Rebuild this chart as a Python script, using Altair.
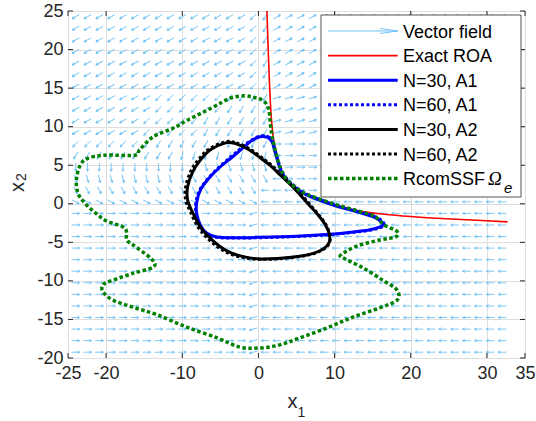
import altair as alt
import pandas as pd

# ---------------- axes ----------------
X_DOMAIN = [-25, 35]
Y_DOMAIN = [-20, 25]
X_TICKS = [-25, -20, -10, 0, 10, 20, 30, 35]
Y_TICKS = [-20, -15, -10, -5, 0, 5, 10, 15, 20, 25]

# ---------------- vector field (quiver grid, directions) ----------------
FIELD_X = [-24.0, -22.44, -20.89, -19.33, -17.78, -16.22, -14.67, -13.11, -11.56, -10.0,
           -8.44, -6.89, -5.33, -3.78, -2.22, -0.67, 0.89, 2.44, 4.0, 5.56, 7.11, 8.67,
           10.22, 11.78, 13.33, 14.89, 16.44, 18.0, 19.56, 21.11, 22.67, 24.22, 25.78,
           27.33, 28.89, 30.44, 32.0]
FIELD_Y = [24.25, 22.75, 21.25, 19.75, 18.25, 16.75, 15.25, 13.75, 12.25, 10.75, 9.25,
           7.75, 6.25, 4.75, 3.25, 1.75, 0.25, -1.25, -2.75, -4.25, -5.75, -7.25, -8.75,
           -10.25, -11.75, -13.25, -14.75, -16.25, -17.75, -19.25]
# code k -> direction 15*k degrees, counter-clockwise from +x1
DIR_CODES = "0123456789ABCDEFGHIJKLMN"
FIELD_ROWS = [
    "EEEEEEEEEEEEEEEFG22222222222222222222",
    "EEEEEEEEEEEEEEEFG22222222222222222222",
    "EEEEEEEEEEEEEEEFG22222222222222222222",
    "EEEEEEEEEEEEEEEFG22222222222222222222",
    "EEEEEEEEEEEEEEEFG22222222222222222222",
    "EEEEEEEEEEEEEEEFG22222222222222222222",
    "EEEEEEEEEEEEEEEFG22222222222222222222",
    "EEEEEEEFFFFFFGGGG11111111111111111111",
    "EEEEEEEFFFFFFGGGG11111111111111111111",
    "EEEEEEFFFFFGGGGGG11111111111111111111",
    "EEEEEEFFFFFGGGGGG11111111111111111111",
    "FFFFFFGGGGGGGGGGG00000000000000000000",
    "GGGGGGGGGHHHHHHHH00000000000000000000",
    "IIIIIIIIIIJJJJJJJC0000000000000000000",
    "JJJJJJJJJJKKKKKKKC0000000000000000000",
    "KKKKKKKKKKKKKKKKCCC000000000000000000",
    "MMMMMMMMMMMMMMMMCCCCCCCCCCCCCCCCCCCCC",
    "000000000000000DCCCCCCCCCCCCCCCCCCCCC",
    "000000000000000DCCCCCCCCCCCCCCCCCCCCC",
    "000000000000000DCCCCCCCCCCCCCCCCCCCCC",
    "000000000000000DCCCCCCCCCCCCCCCCCCCCC",
    "000000000000000DCCCCCCCCCCCCCCCCCCCCC",
    "000000000000000DCCCCCCCCCCCCCCCCCCCCC",
    "000000000000000DCCCCCCCCCCCCCCCCCCCCC",
    "000000000000000DCCCCCCCCCCCCCCCCCCCCC",
    "000000000000000DCCCCCCCCCCCCCCCCCCCCC",
    "000000000000000DCCCCCCCCCCCCCCCCCCCCC",
    "000000000000000DCCCCCCCCCCCCCCCCCCCCC",
    "000000000000000DCCCCCCCCCCCCCCCCCCCCC",
    "000000000000000DCCCCCCCCCCCCCCCCCCCCC",
]

# ---------------- curves ----------------
ROA_X = [1.12, 1.25, 1.4, 1.55, 1.75, 2.0, 2.4, 2.9, 3.6, 4.5, 5.8, 7.6, 10.3, 13.3,
         16.5, 20.0, 24.0, 28.0, 32.7]
ROA_Y = [25.0, 21.0, 17.0, 13.5, 10.5, 8.3, 6.3, 4.5, 3.2, 2.3, 1.4, 0.7, -0.2, -0.95,
         -1.35, -1.65, -1.9, -2.1, -2.35]

A1_N30_X = [0.2, 1.2, 1.8, 2.1, 2.6, 3.1, 3.8, 4.7, 6.0, 7.6, 10.2, 13.2, 15.1, 16.0,
            16.4, 16.0, 14.5, 12.0, 9.4, 5.0, 0.2, -3.0, -5.5, -6.8, -7.6, -8.1, -8.1,
            -7.6, -6.5, -5.0, -3.5, -2.2, -1.0]
A1_N30_Y = [8.7, 8.6, 8.0, 7.0, 5.3, 4.0, 3.0, 2.2, 1.3, 0.6, -0.3, -1.1, -1.7, -2.2,
            -2.6, -3.0, -3.4, -3.7, -3.95, -4.2, -4.35, -4.4, -4.3, -3.8, -2.8, -1.3, 0.2,
            1.8, 3.3, 4.8, 6.0, 7.1, 8.1]

A1_N60_X = [0.3, 1.25, 1.85, 2.15, 2.65, 3.15, 3.85, 4.75, 6.05, 7.7, 10.3, 13.3, 15.2,
            16.1, 16.5, 16.1, 14.6, 12.0, 9.4, 5.0, 0.2, -3.0, -5.5, -6.9, -7.7, -8.2,
            -8.2, -7.7, -6.6, -5.1, -3.6, -2.3, -1.0]
A1_N60_Y = [8.8, 8.7, 8.1, 7.1, 5.4, 4.1, 3.1, 2.3, 1.4, 0.7, -0.2, -1.0, -1.6, -2.1,
            -2.6, -3.05, -3.45, -3.75, -4.0, -4.25, -4.4, -4.45, -4.35, -3.85, -2.85, -1.3,
            0.2, 1.8, 3.3, 4.8, 6.1, 7.2, 8.2]

A2_N30_X = [-4.3, -3.0, -1.4, 0.2, 1.5, 3.0, 4.8, 6.5, 7.7, 8.7, 9.3, 9.3, 8.6, 7.3,
            5.4, 2.5, 0.2, -1.5, -3.5, -5.1, -6.6, -7.7, -8.7, -9.3, -9.3, -8.6, -7.6, -6.3]
A2_N30_Y = [7.9, 7.8, 7.1, 6.0, 5.0, 3.6, 1.9, 0.0, -1.3, -2.6, -3.9, -5.0, -5.8, -6.4,
            -6.8, -7.1, -7.15, -6.95, -6.4, -5.5, -4.2, -2.9, -1.0, 0.5, 2.2, 4.2, 5.7, 7.0]

A2_N60_X = [-4.3, -2.9, -1.3, 0.3, 1.6, 3.1, 4.9, 6.6, 7.8, 8.8, 9.35, 9.35, 8.65, 7.3,
            5.4, 2.5, 0.2, -1.6, -3.6, -5.3, -6.8, -7.95, -8.95, -9.55, -9.55, -8.85,
            -7.8, -6.5]
A2_N60_Y = [8.05, 7.9, 7.2, 6.1, 5.1, 3.7, 2.0, 0.1, -1.3, -2.6, -3.9, -5.0, -5.85,
            -6.45, -6.85, -7.15, -7.2, -7.05, -6.55, -5.65, -4.35, -3.0, -1.0, 0.5, 2.2,
            4.3, 5.8, 7.1]

SSF_X = [-1.8, -0.7, 0.2, 1.0, 1.4, 1.55, 1.75, 2.0, 2.4, 2.9, 3.6, 4.5, 5.8, 7.6, 10.3,
         13.3, 15.2, 15.9, 16.6, 18.2, 18.0, 15.9, 12.9, 10.9, 11.1, 13.7, 16.3, 18.2,
         18.2, 15.9, 12.4, 9.0, 5.4, 2.8, 0.2, -2.4, -5.4, -9.4, -13.3, -16.5, -19.1,
         -20.4, -20.4, -19.1, -16.4, -13.8, -14.0, -16.5, -17.3, -17.3, -17.8, -20.0,
         -21.5, -22.8, -23.7, -23.9, -23.4, -22.4, -20.1, -16.2, -15.6, -13.8, -11.2,
         -9.4, -6.0, -3.7]
SSF_Y = [14.0, 13.8, 13.6, 13.0, 12.0, 10.5, 9.0, 7.8, 6.2, 4.6, 3.3, 2.4, 1.5, 0.75,
         -0.15, -1.0, -1.6, -2.2, -2.8, -3.6, -4.3, -4.7, -5.5, -6.6, -7.0, -8.3, -9.9,
         -11.2, -12.5, -13.5, -14.7, -16.1, -17.4, -18.3, -18.7, -18.6, -17.4, -16.0,
         -14.4, -13.4, -12.5, -11.4, -10.5, -9.9, -9.0, -8.2, -7.2, -5.3, -4.7, -3.7,
         -3.0, -2.2, -1.1, 0.1, 1.4, 3.1, 5.0, 5.9, 6.3, 6.3, 7.0, 8.7, 9.8, 10.8, 12.5,
         13.7]

LEGEND_LABELS = ["Vector field", "Exact ROA", "N=30, A1", "N=60, A1", "N=30, A2",
                 "N=60, A2", "RcomSSF"]

# ---------------- styling ----------------
W, H = 457, 347
FONT = "Liberation Sans"
AX_COLOR = "#262626"
ARROW_COLOR = "#72C3F6"
BLUE, BLACK, RED, GREEN = "#0000FF", "#000000", "#FF0000", "#008000"

SX = alt.Scale(domain=X_DOMAIN, nice=False, zero=False)
SY = alt.Scale(domain=Y_DOMAIN, nice=False, zero=False)
AXX = alt.Axis(values=X_TICKS, labelExpr="datum.value + ''", grid=True, gridColor="#DEDEDE",
               ticks=False, tickSize=0, domain=False, labelFont=FONT, labelFontSize=18,
               labelColor=AX_COLOR, labelPadding=6, labelFlush=False, labelOverlap=False,
               title=None)
AXY = alt.Axis(values=Y_TICKS, labelExpr="datum.value + ''", grid=True, gridColor="#DEDEDE",
               ticks=False, tickSize=0, domain=False, labelFont=FONT, labelFontSize=18,
               labelColor=AX_COLOR, labelPadding=5, labelFlush=False, labelOverlap=False,
               title=None)


def X(field):
    return alt.X(field, type="quantitative", scale=SX, axis=AXX)


def Y(field):
    return alt.Y(field, type="quantitative", scale=SY, axis=AXY)


# vector field
recs = []
for r, line in enumerate(FIELD_ROWS):
    for c, ch in enumerate(line):
        theta = DIR_CODES.index(ch) * 15
        recs.append({"x": FIELD_X[c], "y": FIELD_Y[r], "rot": (360 - theta) % 360})
field_df = pd.DataFrame(recs)

ARROW_PATH = "M-1,0L1,0M1,0L0.4,-0.3M1,0L0.4,0.3"
field = alt.Chart(field_df).mark_point(
    shape=ARROW_PATH, filled=False, size=68, strokeWidth=0.9, color=ARROW_COLOR,
    opacity=1, clip=True
).encode(x=X("x"), y=Y("y"), angle=alt.Angle("rot:Q", scale=None))


def curve(xs, ys, color, width, dash=None, interp="cardinal-closed"):
    df = pd.DataFrame({"x": xs, "y": ys, "i": list(range(len(xs)))})
    kw = dict(color=color, strokeWidth=width, interpolate=interp, clip=True,
              strokeCap="butt", strokeJoin="round")
    if dash is not None:
        kw["strokeDash"] = dash
    return alt.Chart(df).mark_line(**kw).encode(x=X("x"), y=Y("y"), order="i:Q")


roa = curve(ROA_X, ROA_Y, RED, 1.6, interp="catmull-rom")
a1n30 = curve(A1_N30_X, A1_N30_Y, BLUE, 3)
a1n60 = curve(A1_N60_X, A1_N60_Y, BLUE, 3, dash=[3, 2.5])
a2n30 = curve(A2_N30_X, A2_N30_Y, BLACK, 3)
a2n60 = curve(A2_N60_X, A2_N60_Y, BLACK, 3, dash=[3, 2.5])
ssf = curve(SSF_X, SSF_Y, GREEN, 3.5, dash=[3.5, 2.5])

# inward tick marks (box style)
xt = pd.DataFrame({"v": X_TICKS})
yt = pd.DataFrame({"v": Y_TICKS})
tick_style = dict(color=AX_COLOR, strokeWidth=1)
ticks = [
    alt.Chart(xt).mark_rule(**tick_style).encode(x=X("v"), y=alt.value(H), y2=alt.value(H - 5)),
    alt.Chart(xt).mark_rule(**tick_style).encode(x=X("v"), y=alt.value(0), y2=alt.value(5)),
    alt.Chart(yt).mark_rule(**tick_style).encode(y=Y("v"), x=alt.value(0), x2=alt.value(5)),
    alt.Chart(yt).mark_rule(**tick_style).encode(y=Y("v"), x=alt.value(W), x2=alt.value(W - 5)),
]

ONE = alt.Data(values=[{}])

# axis titles x_1 and x_2
titles = [
    alt.Chart(ONE).mark_text(text="x", font=FONT, fontSize=20, color=AX_COLOR,
                             align="center", baseline="alphabetic")
    .encode(x=alt.value(224.5), y=alt.value(396.5)),
    alt.Chart(ONE).mark_text(text="1", font=FONT, fontSize=14, color=AX_COLOR,
                             align="center", baseline="alphabetic")
    .encode(x=alt.value(233.5), y=alt.value(406)),
    alt.Chart(ONE).mark_text(text="x", font=FONT, fontSize=20, color=AX_COLOR,
                             align="center", baseline="alphabetic", angle=270)
    .encode(x=alt.value(-44.5), y=alt.value(176)),
    alt.Chart(ONE).mark_text(text="2", font=FONT, fontSize=14, color=AX_COLOR,
                             align="center", baseline="alphabetic", angle=270)
    .encode(x=alt.value(-42), y=alt.value(166)),
]

# legend
LEG_Y0, LEG_DY = 20.0, 24.6
LX0, LX1, TX = 260, 329.7, 335
leg = [alt.Chart(ONE).mark_rect(fill="white", stroke=AX_COLOR, strokeWidth=0.8)
       .encode(x=alt.value(253), x2=alt.value(453), y=alt.value(4), y2=alt.value(186))]

leg_styles = [
    None,
    dict(color=RED, strokeWidth=1.6),
    dict(color=BLUE, strokeWidth=3),
    dict(color=BLUE, strokeWidth=3, strokeDash=[3, 2.5]),
    dict(color=BLACK, strokeWidth=3),
    dict(color=BLACK, strokeWidth=3, strokeDash=[3, 2.5]),
    dict(color=GREEN, strokeWidth=3.5, strokeDash=[3.5, 2.5]),
]
for i, lab in enumerate(LEGEND_LABELS):
    yc = LEG_Y0 + LEG_DY * i
    if leg_styles[i] is None:
        leg.append(alt.Chart(ONE).mark_point(
            shape="M-1,0L1,0M1,0L0.5,-0.07M1,0L0.5,0.07", filled=False,
            size=(LX1 - LX0) ** 2, strokeWidth=1, color=ARROW_COLOR, opacity=1)
            .encode(x=alt.value((LX0 + LX1) / 2), y=alt.value(yc)))
    else:
        leg.append(alt.Chart(ONE).mark_rule(strokeCap="butt", **leg_styles[i])
                   .encode(x=alt.value(LX0), x2=alt.value(LX1), y=alt.value(yc)))
    leg.append(alt.Chart(ONE).mark_text(text=lab, font=FONT, fontSize=18, color="black",
                                        align="left", baseline="alphabetic")
               .encode(x=alt.value(TX), y=alt.value(yc + 6.5)))

yl = LEG_Y0 + LEG_DY * 6
leg.append(alt.Chart(ONE).mark_text(text="Ω", font="Liberation Serif", fontStyle="italic",
                                    fontSize=19, color="black", align="left",
                                    baseline="alphabetic")
           .encode(x=alt.value(420), y=alt.value(yl + 6.5)))
leg.append(alt.Chart(ONE).mark_text(text="e", font=FONT, fontStyle="italic",
                                    fontSize=15, color="black", align="left",
                                    baseline="alphabetic")
           .encode(x=alt.value(436), y=alt.value(yl + 14)))

chart = alt.layer(
    field, roa, a1n30, a1n60, a2n30, a2n60, ssf, *ticks, *titles, *leg
).properties(
    width=W, height=H,
    padding={"left": 68, "top": 11, "right": 11, "bottom": 63},
    autosize=alt.AutoSizeParams(type="none"),
    background="white",
).configure_view(stroke=AX_COLOR, strokeWidth=1)

chart.save("out.html", embed_options={"renderer": "svg", "actions": False})
